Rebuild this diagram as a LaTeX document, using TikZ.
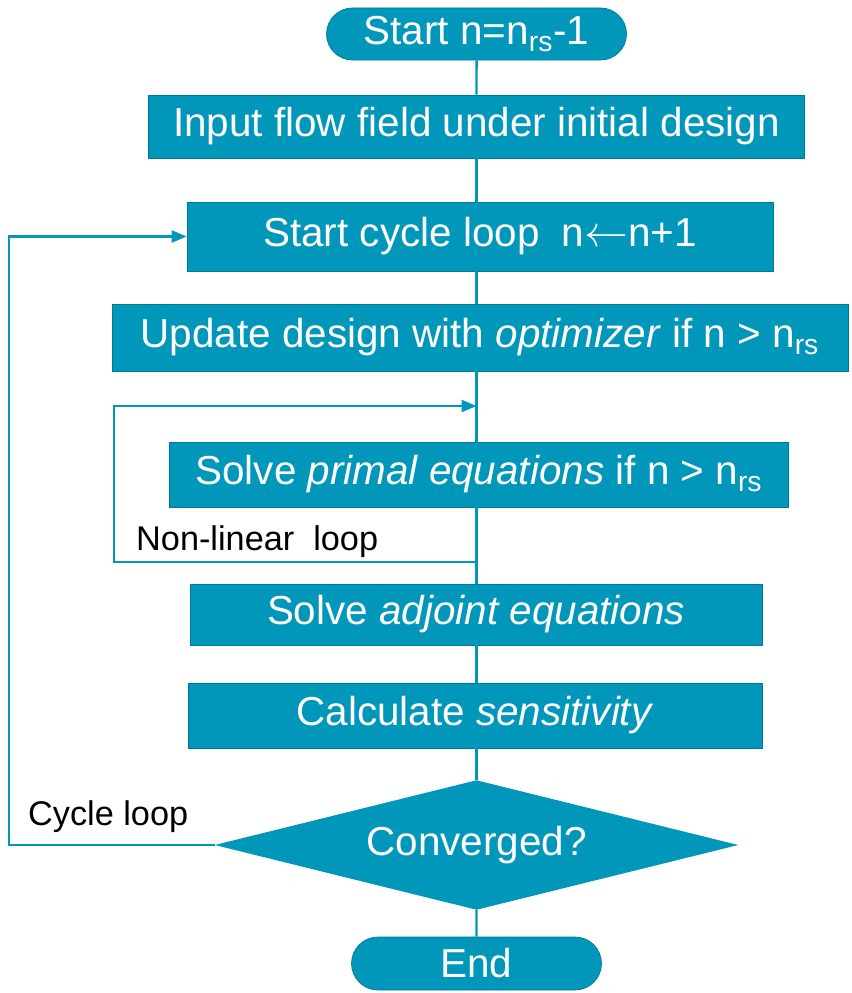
\documentclass[tikz,border=0pt]{standalone}
\usepackage{fontspec}
\setmainfont{Liberation Sans}
\usetikzlibrary{arrows.meta,shapes.misc}

\definecolor{flowblue}{RGB}{0,151,186}

\begin{document}
\begin{tikzpicture}[line width = 1.4pt,
				box/.style = {rectangle, draw = flowblue!80!black, line width = 0.4pt,
				fill = flowblue, text = white, inner sep = 0pt,
				font = \fontsize{23}{27}\selectfont},
				term/.style = {rounded rectangle, draw = flowblue!80!black, line width = 0.4pt,
				fill = flowblue, text = white, inner sep = 0pt,
				font = \fontsize{23}{27}\selectfont},
				cond/.style = {rectangle, text = white, inner sep = 0pt,
				font = \fontsize{23}{27}\selectfont},
				link/.style = {draw = flowblue, line width = 1.4pt},
				tip/.style = {-{Triangle[length = 0.3cm, width = 0.24cm]}},
				note/.style = {inner sep = 0pt, font = \fontsize{19.5}{23}\selectfont},
				]

		\useasboundingbox (0,0) rectangle (17.04,-19.86);

		% main chain, all on one vertical axis
		\node [term, minimum width = 6cm, minimum height = 1.04cm] (t_1) at (9.53,-0.68)
		{Start n=n\textsubscript{rs}-1};
		\node [box, minimum width = 13.12cm, minimum height = 1.26cm] (b_1) at (9.53,-2.53)
		{Input flow field under initial design};
		\node [box, minimum width = 11.72cm, minimum height = 1.38cm] (b_2) at (9.6,-4.73)
		{Start cycle loop\ \ n$\leftarrow$n+1};
		\node [box, minimum width = 14.72cm, minimum height = 1.34cm] (b_3) at (9.6,-6.75)
		{Update design with \textit{optimizer} if n > n\textsubscript{rs}};
		\node [box, minimum width = 12.38cm, minimum height = 1.30cm] (b_4) at (9.58,-9.49)
		{Solve \textit{primal equations} if n > n\textsubscript{rs}};
		\node [box, minimum width = 11.44cm, minimum height = 1.22cm] (b_5) at (9.52,-12.29)
		{Solve \textit{adjoint equations}};
		\node [box, minimum width = 11.48cm, minimum height = 1.30cm] (b_6) at (9.5,-14.31)
		{Calculate \textit{sensitivity}};
		% decision: the diamond is filled between the node's four side anchors
		\node [cond, minimum width = 10.42cm, minimum height = 2.54cm] (d_1) at (9.53,-16.9) {};
		\fill [flowblue] (d_1.north) -- (d_1.east) -- (d_1.south) -- (d_1.west) -- cycle;
		\node [cond] at (d_1) {Converged?};
		\node [term, minimum width = 5cm, minimum height = 1.06cm] (t_2) at (9.53,-19.27)
		{End};

		\draw [link] (t_1) -- (t_1 |- b_1.north);
		\draw [link] (b_1) -- (b_1 |- b_2.north);
		\draw [link] (b_2.south -| t_1) -- (t_1 |- b_3.north);
		\draw [link] (b_3.south -| t_1) -- (t_1 |- b_4.north);
		\draw [link] (b_4.south -| t_1) -- (t_1 |- b_5.north);
		\draw [link] (b_5.south -| t_1) -- (t_1 |- b_6.north);
		\draw [link] (b_6.south -| t_1) -- (d_1.north);
		\draw [link] (d_1.south) -- (t_2);

		% inner loop round the primal solve
		\coordinate (n_in) at (9.53,-8.12);
		\coordinate (n_out) at (9.53,-11.24);
		\draw [link, tip] (n_out) -- ++(-7.25,0) |- (n_in);
		\node [note, anchor = base west] (l_1) at (2.7,-11.0) {Non-linear\ \ loop};

		% outer loop back to the cycle start
		\draw [link, tip] (d_1.west) -- ++(-4.12,0) |- (b_2.west);
		\node [note, anchor = base west] (l_2) at (0.54,-16.5) {Cycle loop};
\end{tikzpicture}
\end{document}
